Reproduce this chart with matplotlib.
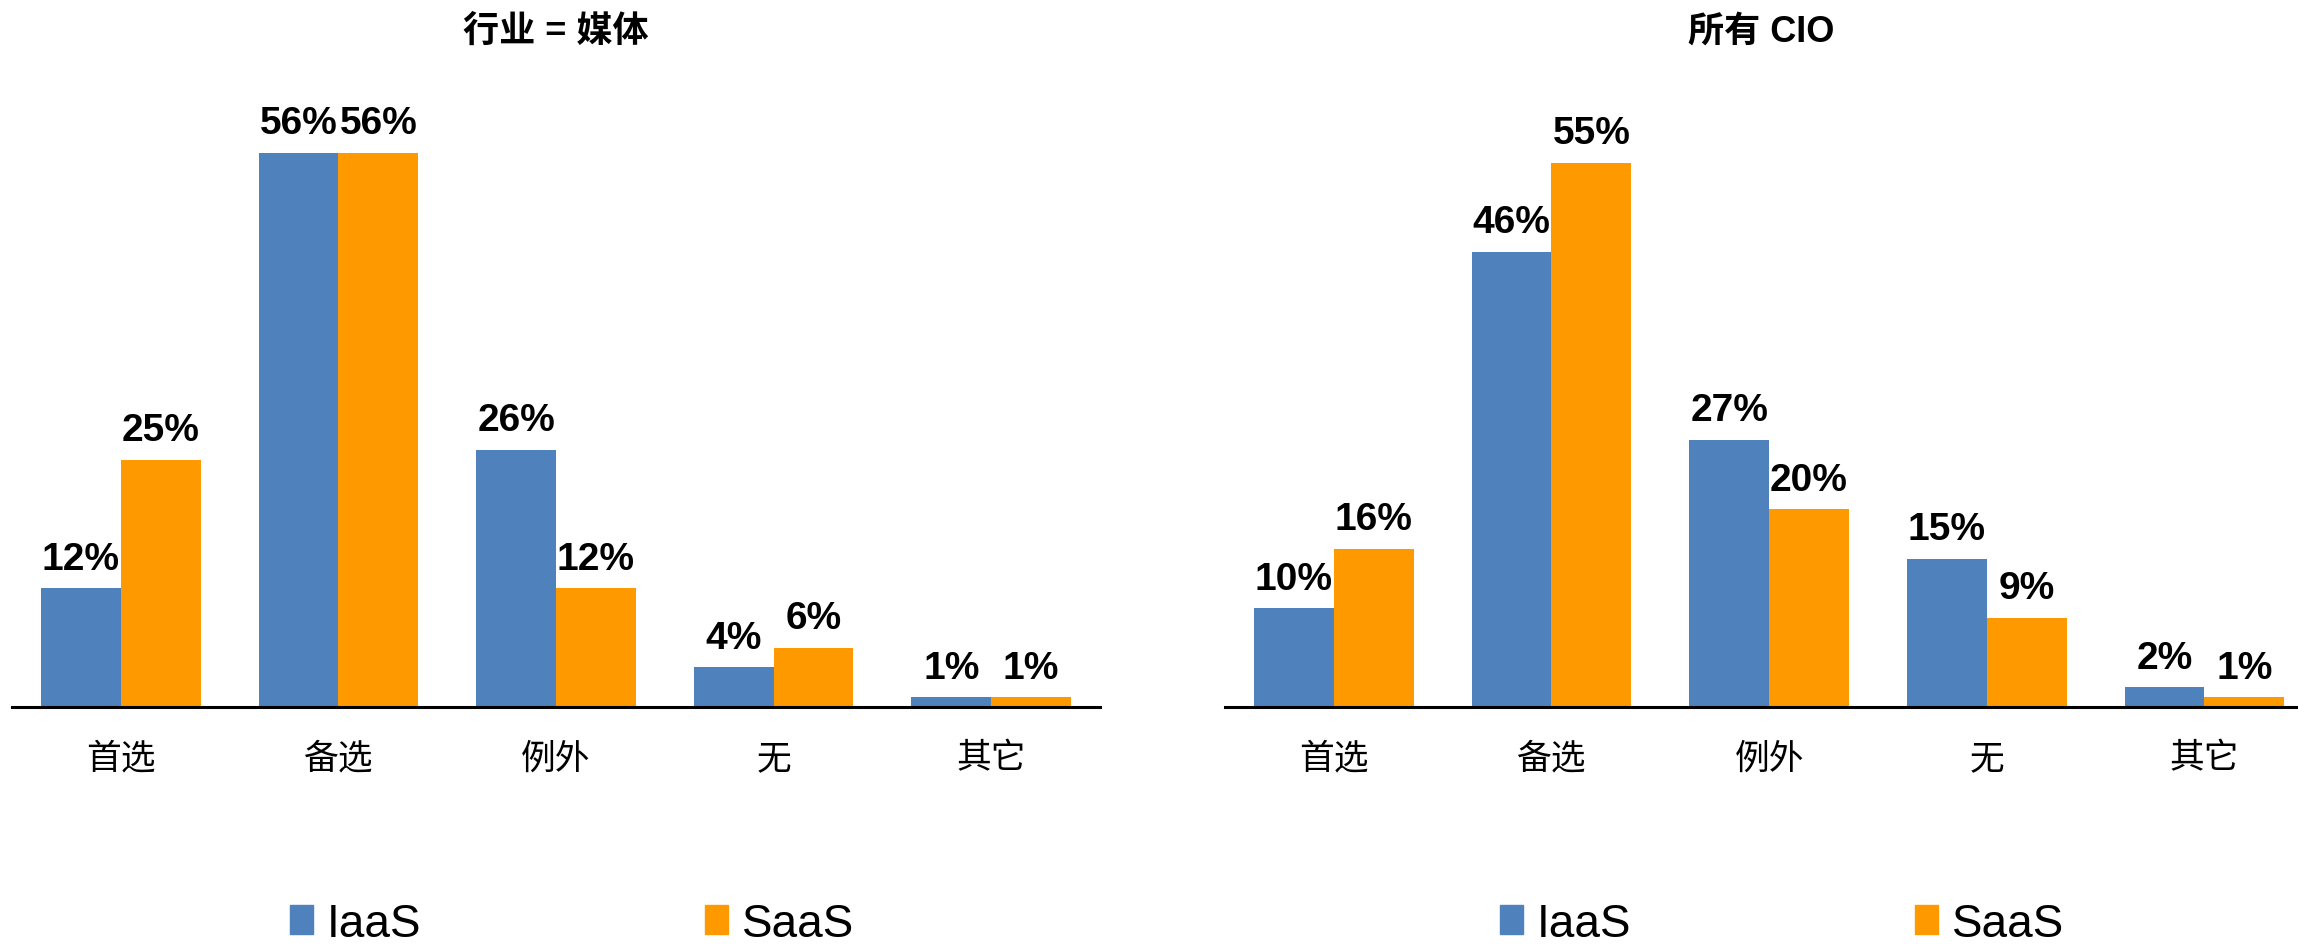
import numpy as np
import matplotlib
matplotlib.use("Agg")
import matplotlib.pyplot as plt
from matplotlib.patches import Patch

plt.rcParams['font.family'] = ['Liberation Sans', 'Noto Sans CJK SC', 'DejaVu Sans']

categories = ['首选', '备选', '例外', '无', '其它']
series_names = ['IaaS', 'SaaS']
media_iaas = [12, 56, 26, 4, 1]
media_saas = [25, 56, 12, 6, 1]
all_iaas = [10, 46, 27, 15, 2]
all_saas = [16, 55, 20, 9, 1]
titles = ['行业 = 媒体', '所有 CIO']

blue = '#4F81BD'
orange = '#FF9900'
W, H = 2298, 945

fig = plt.figure(figsize=(W / 100, H / 100), dpi=100)

# axes positions in pixels: left, bottom, width, height
panels = [
    (12, 237, 1088, 594, (-0.5, 4.5), media_iaas, media_saas, titles[0]),
    (1225, 237, 1073, 594, (-0.5, 4.43), all_iaas, all_saas, titles[1]),
]

bw = 0.367
x = np.arange(len(categories))
for px, py, pw, ph, xlim, iaas, saas, title in panels:
    ax = fig.add_axes([px / W, py / H, pw / W, ph / H])
    b1 = ax.bar(x - bw / 2, iaas, width=bw, color=blue, edgecolor='none')
    b2 = ax.bar(x + bw / 2, saas, width=bw, color=orange, edgecolor='none')
    for bars, vals in ((b1, iaas), (b2, saas)):
        for rect, v in zip(bars, vals):
            ax.annotate(f'{v}%', (rect.get_x() + rect.get_width() / 2, rect.get_height()),
                        xytext=(0, 14), textcoords='offset points',
                        ha='center', va='baseline', fontsize=28, fontweight='bold')
    ax.set_xlim(*xlim)
    ax.set_ylim(0, 60)
    ax.set_xticks(x)
    ax.set_xticklabels(categories, fontsize=25)
    ax.tick_params(axis='x', length=0, pad=25)
    ax.set_yticks([])
    for s in ['top', 'right', 'left']:
        ax.spines[s].set_visible(False)
    ax.spines['bottom'].set_linewidth(2.2)
    ax.spines['bottom'].set_color('black')
    ax.patch.set_alpha(0)
    cx = (px + pw / 2) / W
    fig.text(cx, 1 - 32 / H, title, ha='center', va='center', fontsize=26, fontweight='bold')

    handles = [Patch(color=blue), Patch(color=orange)]
    lx = 572 / W if px < 600 else 1782 / W
    fig.legend(handles, series_names, loc='center', bbox_to_anchor=(lx, 20 / H),
               ncol=2, frameon=False, fontsize=33, handlelength=0.5, handleheight=0.6,
               handletextpad=0.3, columnspacing=6.2, borderpad=0, borderaxespad=0)

fig.savefig('out.png', dpi=100)
